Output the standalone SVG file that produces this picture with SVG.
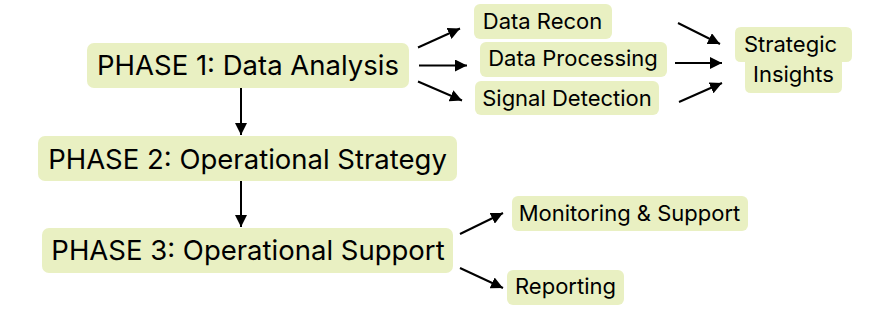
<svg xmlns="http://www.w3.org/2000/svg" width="893" height="314" viewBox="0 0 893 314">
<defs>
<marker id="ah" viewBox="0 0 10 10" refX="10" refY="5" markerWidth="6" markerHeight="6" markerUnits="strokeWidth" orient="auto">
<path d="M0,0 L10,5 L0,10 z" fill="#000"/>
</marker>
<style>
.box{fill:#e9f0c2;}
.big{font-family:Inter,"Liberation Sans",sans-serif;font-size:27.5px;fill:#000;text-anchor:middle;}
.sm{font-family:Inter,"Liberation Sans",sans-serif;font-size:22px;fill:#000;text-anchor:middle;}
.c{stroke:#000;stroke-width:2;fill:none;marker-end:url(#ah);}
</style>
</defs>
<rect width="893" height="314" fill="#fff"/>
<g id="phase1"><rect class="box" x="87" y="43" width="322" height="45" rx="7"/><text class="big" x="248" y="74.5">PHASE 1: Data Analysis</text></g>
<g id="phase2"><rect class="box" x="38" y="136" width="419" height="45" rx="7"/><text class="big" x="247.5" y="169">PHASE 2: Operational Strategy</text></g>
<g id="phase3"><rect class="box" x="42" y="228" width="411" height="45" rx="7"/><text class="big" x="248" y="260">PHASE 3: Operational Support</text></g>
<g id="recon"><rect class="box" x="474" y="4" width="138" height="35" rx="6"/><text class="sm" x="542.5" y="29.3">Data Recon</text></g>
<g id="processing"><rect class="box" x="480" y="42" width="187" height="35" rx="6"/><text class="sm" x="573" y="66">Data Processing</text></g>
<g id="signal"><rect class="box" x="475" y="81" width="184" height="34" rx="6"/><text class="sm" x="567" y="106">Signal Detection</text></g>
<g id="insights"><path class="box" d="M741,27 H846 Q852,27 852,33 V56 Q852,62 846,62 H842 V87 Q842,93 836,93 H751 Q745,93 745,87 V62 H741 Q735,62 735,56 V33 Q735,27 741,27 Z"/><text class="sm" x="790.5" y="51.5">Strategic</text><text class="sm" x="793.5" y="81.5">Insights</text></g>
<g id="monitoring"><rect class="box" x="512" y="196" width="236" height="35" rx="6"/><text class="sm" x="629.5" y="220.7">Monitoring &amp; Support</text></g>
<g id="reporting"><rect class="box" x="507" y="270" width="117" height="35" rx="6"/><text class="sm" x="565.5" y="294">Reporting</text></g>
<g id="connectors">
<line class="c" x1="418" y1="47.5" x2="460" y2="28.5"/>
<line class="c" x1="419" y1="65.5" x2="467" y2="65.5"/>
<line class="c" x1="418" y1="81.5" x2="462" y2="100.5"/>
<line class="c" x1="678" y1="23" x2="720" y2="44"/>
<line class="c" x1="675" y1="63" x2="722" y2="63"/>
<line class="c" x1="679" y1="102" x2="722" y2="83"/>
<line class="c" x1="241" y1="88" x2="241" y2="135"/>
<line class="c" x1="241" y1="181" x2="241" y2="227"/>
<line class="c" x1="460" y1="234" x2="503" y2="213"/>
<line class="c" x1="460" y1="268" x2="503" y2="288"/>
</g>
</svg>
